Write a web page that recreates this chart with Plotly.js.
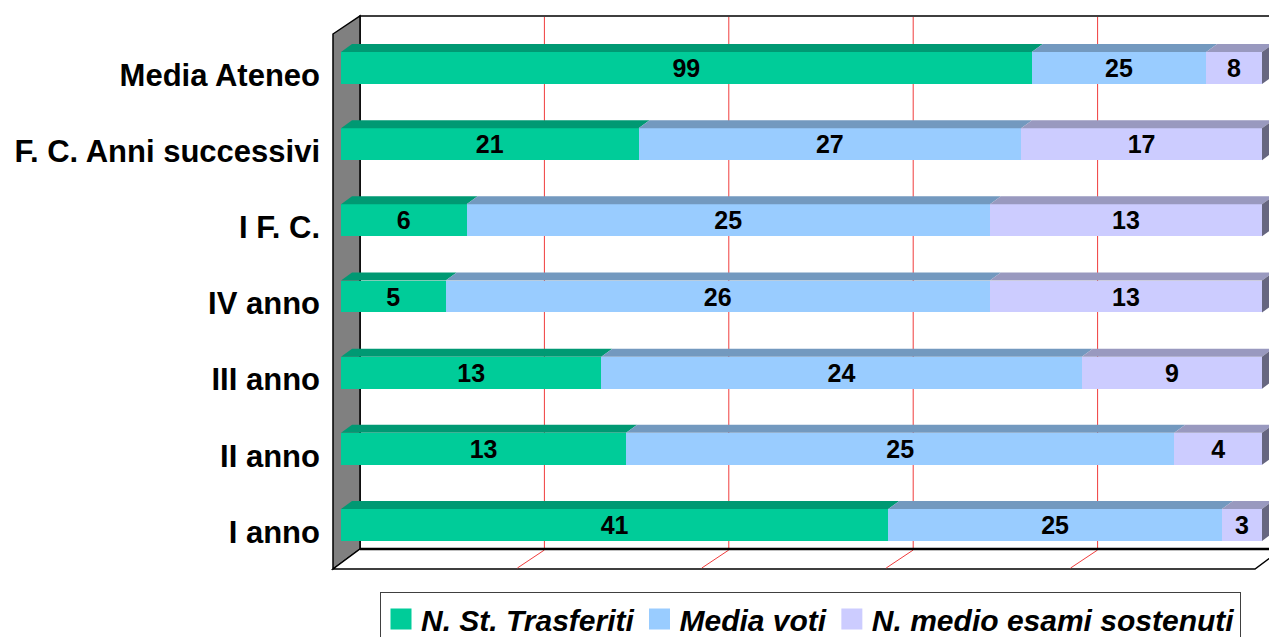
<!DOCTYPE html>
<html>
<head>
<meta charset="utf-8">
<script src="https://cdn.plot.ly/plotly-3.0.1.min.js"></script>
<style>html,body{margin:0;padding:0;background:#fff;}#chart{width:1269px;height:637px;}</style>
</head>
<body>
<div id="chart"></div>
<script>
// Data (bottom to top)
const categories = ["I anno", "II anno", "III anno", "IV anno", "I F. C.", "F. C. Anni successivi", "Media Ateneo"];
const seriesNames = ["N. St. Trasferiti", "Media voti", "N. medio esami sostenuti"];
const trasferiti = [41, 13, 13, 5, 6, 21, 99];
const mediaVoti = [25, 25, 24, 26, 25, 27, 25];
const esami = [3, 4, 9, 13, 13, 17, 8];

const frontColors = ["#00CC99", "#99CCFF", "#CCCCFF"];
const topColors = ["#009973", "#7399BF", "#9999BF"];
const sideColor = "#666680";
const FONT = "Liberation Sans, Arial, sans-serif";

const W = 1269, H = 637;
const M = {l: 341, r: 7, t: 30, b: 74, autoexpand: false};
const PW = W - M.l - M.r, PH = H - M.t - M.b;
const px = X => (X - M.l) / PW;
const py = Y => 1 - (Y - M.t) / PH;

const yIdx = categories.map((c, i) => i);
const series = [trasferiti, mediaVoti, esami];
const BARGAP = 0.58;

const traces = series.map((vals, s) => ({
  type: "bar", orientation: "h",
  name: seriesNames[s], showlegend: false,
  x: vals, y: yIdx,
  text: vals.map(String), texttemplate: "%{text}",
  textposition: "inside", insidetextanchor: "middle", textangle: 0,
  constraintext: "none",
  textfont: {family: FONT, size: 25, weight: "bold", color: "#000"},
  marker: {color: frontColors[s], line: {width: 0}},
  hoverinfo: "skip"
}));

// Legend proxies
seriesNames.forEach((n, s) => traces.push({
  type: "scatter", mode: "markers", name: n, x: [null], y: [null],
  marker: {symbol: "square", size: 16, color: frontColors[s], line: {color: frontColors[s], width: 5}},
  hoverinfo: "skip"
}));

const shapes = [];
const poly = (pts, fill, line, lw, layer) => shapes.push({
  type: "path", xref: "paper", yref: "paper", layer: layer || "below",
  path: "M" + pts.map(p => px(p[0]) + "," + py(p[1])).join(" L") + " Z",
  fillcolor: fill, line: {color: line || "rgba(0,0,0,0)", width: lw || 0}
});
const seg = (x0, y0, x1, y1, color, w) => shapes.push({
  type: "line", xref: "paper", yref: "paper", layer: "below",
  x0: px(x0), y0: py(y0), x1: px(x1), y1: py(y1), line: {color: color, width: w}
});

// 3D frame
const backL = 360, backR = 1282, backT = 16, backB = 549;
const frontL = 333, frontR = 1255, floorY = 569;
poly([[backL, backT], [backR, backT], [backR, backB], [backL, backB]], "#ffffff", "#000", 1.5);
poly([[frontL, 34], [backL, backT], [backL, backB], [frontL, floorY]], "#808080", "#000", 1.5);
poly([[frontL, floorY], [backL, backB], [backR, backB], [frontR, floorY]], "#ffffff", "#000", 1.5);
[20, 40, 60, 80].forEach(p => {
  const xb = backL + (backR - backL) * p / 100;
  const xf = frontL + (frontR - frontL) * p / 100;
  seg(xb, backT + 1, xb, backB - 1, "#F03C3C", 1);
  seg(xb, backB + 1, xf, floorY - 1, "#F03C3C", 1);
});
seg(backL, backB, backR, backB, "#000", 2.5);

// bar top and side faces computed from data
const DX = 11 / PW, DY = 8 / PH;
yIdx.forEach(i => {
  const tot = series.reduce((a, v) => a + v[i], 0);
  let cum = 0;
  const yc = (i + 0.5) / categories.length;
  const half = (1 - BARGAP) / 2 / categories.length;
  const yT = yc + half, yB = yc - half;
  series.forEach((v, s) => {
    const a = cum / tot, b = (cum + v[i]) / tot;
    cum += v[i];
    shapes.push({type: "path", xref: "paper", yref: "paper", layer: "above",
      path: `M${a},${yT} L${b},${yT} L${b + DX},${yT + DY} L${a + DX},${yT + DY} Z`,
      fillcolor: topColors[s], line: {width: 0}});
  });
  shapes.push({type: "path", xref: "paper", yref: "paper", layer: "above",
    path: `M1,${yT} L1,${yB} L${1 + DX},${yB + DY} L${1 + DX},${yT + DY} Z`,
    fillcolor: sideColor, line: {width: 0}});
});

const layout = {
  width: W, height: H,
  margin: M,
  barmode: "stack", barnorm: "percent", bargap: BARGAP,
  paper_bgcolor: "#ffffff", plot_bgcolor: "rgba(0,0,0,0)",
  font: {family: FONT, color: "#000"},
  xaxis: {range: [0, 100], showgrid: false, zeroline: false, showticklabels: false, showline: false, fixedrange: true},
  yaxis: {range: [-0.5, categories.length - 0.5], tickvals: yIdx, ticktext: categories,
    showgrid: false, zeroline: false, showline: false, ticks: "", ticklabelstandoff: 20, ticklabelshift: 7,
    tickfont: {family: FONT, size: 31, weight: "bold", color: "#000"}, fixedrange: true},
  showlegend: true,
  legend: {orientation: "h", traceorder: "normal", x: px(380), xanchor: "left", y: py(592), yanchor: "top",
    bgcolor: "#ffffff", bordercolor: "#404040", borderwidth: 1,
    font: {family: FONT, size: 30, weight: "bold", style: "italic", color: "#000"},
    itemclick: false, itemdoubleclick: false},
  shapes: shapes
};

Plotly.newPlot("chart", traces, layout, {displayModeBar: false, staticPlot: true});
</script>
</body>
</html>
